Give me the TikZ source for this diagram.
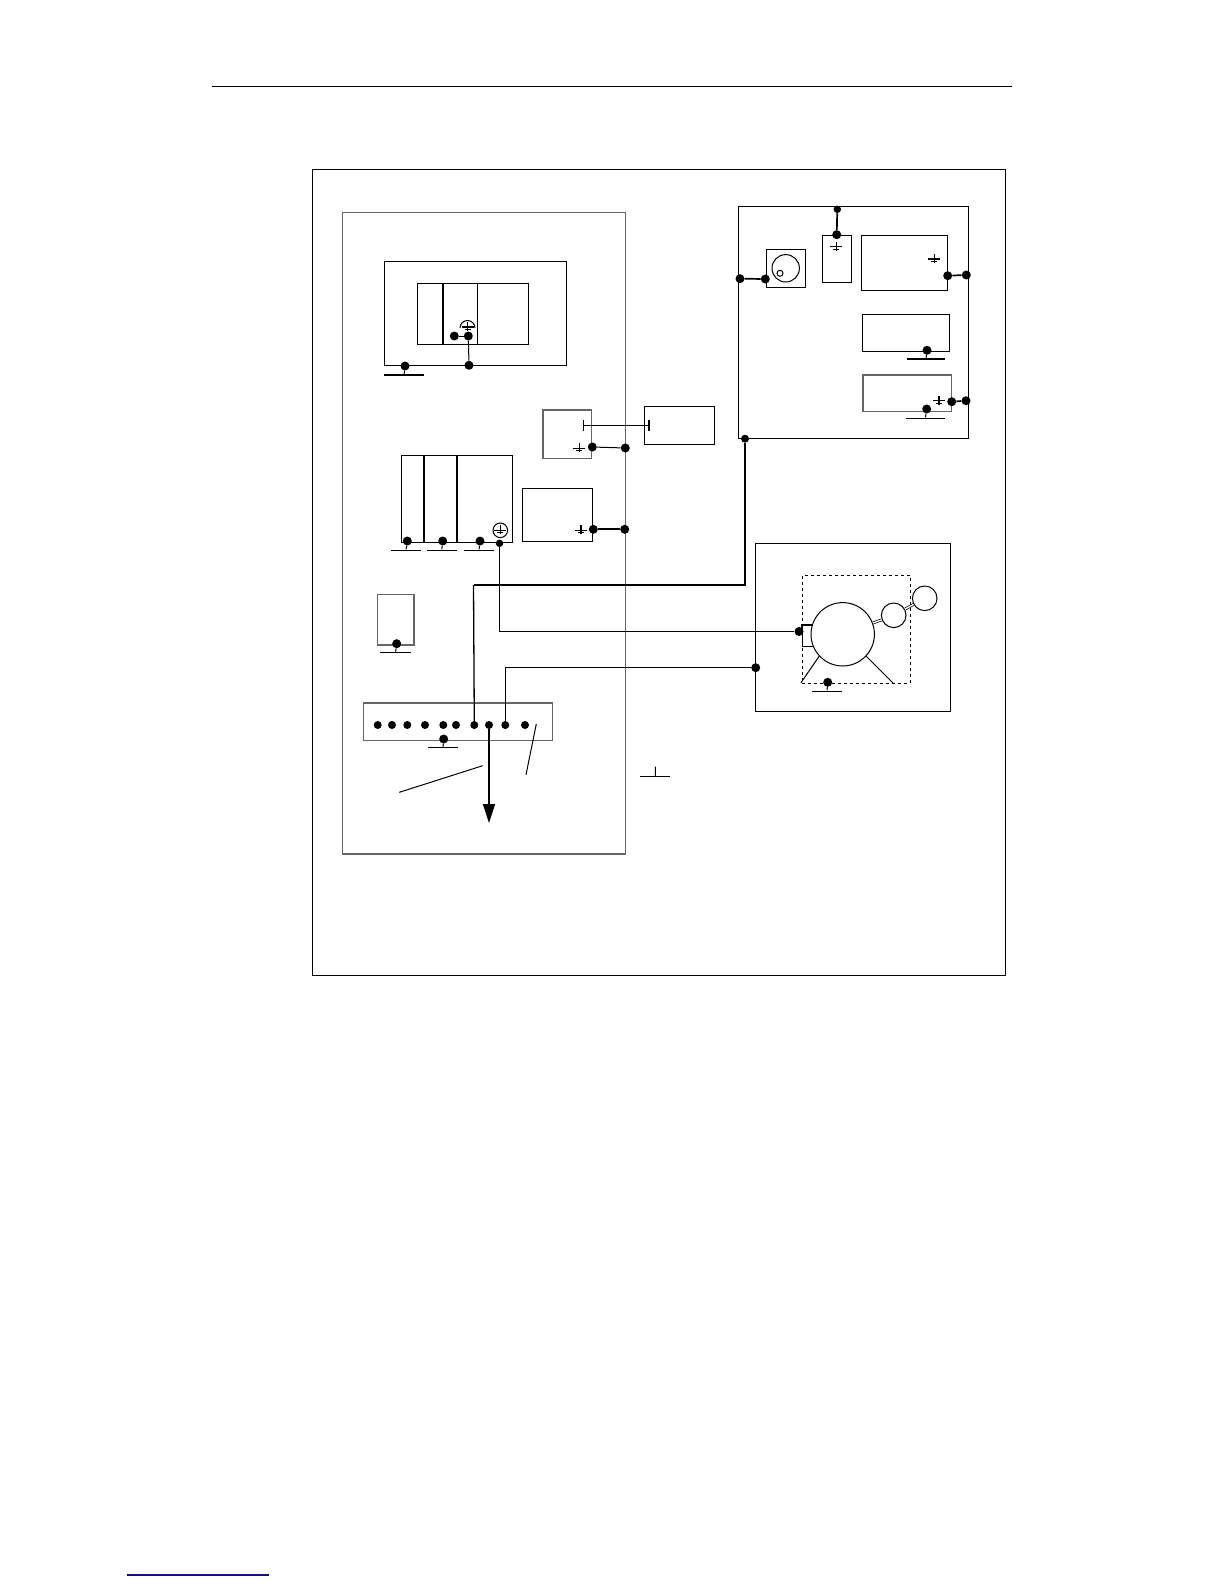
\documentclass[tikz,border=0pt]{standalone}
\usepackage{xcolor}
\usepackage{tikz}
\usetikzlibrary{arrows.meta}
\definecolor{linknavy}{HTML}{10107F}
\newcommand{\earth}[1]{\draw[line width=1.1pt] (#1) ++(0,-5) -- ++(0,9) (#1) ++(-6,0) -- ++(12,0) (#1) ++(-3,2.5) -- ++(6,0);}
\begin{document}
\begin{tikzpicture}[x=1pt, y=-1pt, >=stealth]
        \tikzstyle{box}=[draw, line width=1pt, inner sep=0pt, outer sep=0pt]
        \tikzstyle{pale}=[box, draw=black!60, line width=1.2pt]
        \tikzstyle{dot}=[circle, fill=black, inner sep=0pt, minimum size=9pt]
        \tikzstyle{bar}=[fill=black, inner sep=0pt, minimum height=1.5pt]
        \tikzstyle{tick}=[fill=black, inner sep=0pt, minimum width=1.2pt, minimum height=11pt]
        \tikzstyle{wire}=[line width=1pt]
        \tikzstyle{fat}=[line width=1.7pt]
        \useasboundingbox (0,0) rectangle (1224,1584);
        \fill[white] (0,0) rectangle (1224,1584);
        % page rules
        \coordinate (ruleL) at (212,86);
        \coordinate (ruleR) at (1012,86);
        \draw[line width=.9pt] (ruleL) -- (ruleR);
        \coordinate (linkL) at (127,1575);
        \coordinate (linkR) at (269,1575);
        \draw[linknavy, line width=1.2pt] (linkL) -- (linkR);
        % frames
        \node[box, minimum width=693pt, minimum height=806pt] (frame) at (658.8,572.3) {};
        \node[pale, minimum width=282.6pt, minimum height=641.3pt] (cabinet) at (484,533.3) {};
        % upper unit
        \node[box, minimum width=182.4pt, minimum height=104.4pt] (unit) at (475.5,313.5) {};
        \node[box, minimum width=111.4pt, minimum height=61pt] (rack) at (473,313.8) {};
        \draw[fat] (443,283.3) -- (443,344.3);
        \draw[wire] (477.3,283.3) -- (477.3,344.3);
        \draw[wire] (460,328) arc (180:360:7.5);
        \earth{467.5,327}
        \node[dot] (dRackA) at (454.3,336) {};
        \node[dot] (dRackB) at (468.3,336) {};
        \node[dot] (dUnit) at (469,365.3) {};
        \node[dot] (dUnitG) at (405,366) {};
        \node[bar, minimum width=39.4pt] (bUnit) at (404,375) {};
        \draw[wire] (dRackA) -- (dRackB);
        \draw[wire] (dRackB) -- (dUnit);
        \draw[wire] (dUnitG) -- (bUnit);
        % boxes at the cabinet wall
        \node[pale, minimum width=48.7pt, minimum height=48.3pt] (conv) at (567.3,434.2) {};
        \node[box, minimum width=70pt, minimum height=37.7pt] (ext) at (679.3,425.2) {};
        \node[tick] (tConv) at (583.3,425.3) {};
        \node[tick] (tExt) at (649,425.3) {};
        \draw[wire] (tConv) -- (tExt);
        \earth{579.3,448.3}
        \node[dot] (dConv) at (592.3,447) {};
        \node[dot] (dConvW) at (625.3,448) {};
        \draw[wire] (dConv) -- (dConvW);
        \node[box, minimum width=70.4pt, minimum height=53.4pt] (psu) at (557.5,515) {};
        \earth{581,530.3}
        \node[dot] (dPsu) at (593.3,529.3) {};
        \node[dot] (dPsuW) at (624.7,529.3) {};
        \draw[fat] (dPsu) -- (dPsuW);
        % lower rack
        \node[box, minimum width=111pt, minimum height=87pt] (bank) at (456.8,498.8) {};
        \draw[fat] (424,455.3) -- (424,542.3);
        \draw[fat] (457,455.3) -- (457,542.3);
        \node[draw, circle, line width=1pt, inner sep=0pt, minimum size=14.6pt] (pe) at (500.3,530.3) {};
        \earth{500.3,530.3}
        \foreach \n/\x/\a/\b in {A/407.3/391/421, B/442.7/426.3/457, C/480/463.7/494.3} {
            \node[dot] (dBank\n) at (\x,541) {};
            \node[bar, minimum width=30pt] (bBank\n) at ({(\a+\b)/2},550.3) {};
            \draw[wire] (dBank\n) -- (bBank\n);
        }
        \node[dot, minimum size=7.5pt] (dBankW) at (499.5,543.3) {};
        % small box
        \node[pale, minimum width=36.3pt, minimum height=50.3pt] (relay) at (395.8,619.8) {};
        \node[dot] (dRelay) at (396.7,643.7) {};
        \node[bar, minimum width=30.4pt] (bRelay) at (395.5,652.7) {};
        \draw[wire] (dRelay) -- (bRelay);
        % terminal strip
        \node[pale, minimum width=189.4pt, minimum height=37.3pt] (strip) at (458,721.7) {};
        \foreach \n/\x in {1/377.7, 2/392, 3/407.3, 4/425, 5/443.3, 6/456, 7/474.3, 8/489, 9/505.3, 10/525} {
            \node[dot, minimum size=8pt] (s\n) at (\x,725) {};
        }
        \node[dot] (dStrip) at (443.7,739) {};
        \node[bar, minimum width=30pt] (bStrip) at (443,747.7) {};
        \draw[wire] (dStrip) -- (bStrip);
        \coordinate (out) at (489,823);
        \draw[-{Stealth[length=19pt, width=12pt, inset=0pt]}, line width=1.4pt] (s8) -- (out);
        \coordinate (leadA) at (399.3,792.3);
        \coordinate (leadB) at (482.7,765.7);
        \draw[wire] (leadA) -- (leadB);
        \coordinate (leadC) at (536.3,724);
        \coordinate (leadD) at (526,774.7);
        \draw[wire] (leadC) -- (leadD);
        \node[bar, minimum width=30.3pt] (bFree) at (655.2,776.7) {};
        \coordinate (topFree) at (655.5,766.7);
        \draw[wire] (topFree) -- (bFree);
        % cab box
        \node[box, minimum width=230pt, minimum height=231.3pt] (cab) at (853,322.4) {};
        \node[box, minimum width=39pt, minimum height=38.4pt] (knob) at (785.5,268.5) {};
        \node[draw, circle, line width=1pt, inner sep=0pt, minimum size=27.4pt] (dial) at (785.7,268.3) {};
        \node[draw, circle, line width=1pt, inner sep=0pt, minimum size=6pt] (pin) at (780,273.3) {};
        \node[dot] (dCabL) at (740,278.7) {};
        \node[dot] (dKnob) at (765.3,279) {};
        \draw[fat] (dCabL) -- (dKnob);
        \node[box, minimum width=29pt, minimum height=46.7pt] (fuse) at (836.5,258.7) {};
        \earth{836.3,246.7}
        \node[dot, minimum size=7.5pt] (dCabT) at (837.3,209.3) {};
        \node[dot] (dFuse) at (836.7,234.7) {};
        \draw[fat] (dCabT) -- (dFuse);
        \node[box, minimum width=86pt, minimum height=55pt] (ctrl) at (904.7,262.8) {};
        \earth{934.3,259}
        \node[dot] (dCtrl) at (947.7,275.7) {};
        \node[dot] (dCabR) at (966.3,275) {};
        \draw[fat] (dCtrl) -- (dCabR);
        \node[box, minimum width=87.4pt, minimum height=37pt] (lamp) at (906,332.8) {};
        \node[dot] (dLamp) at (927,350.3) {};
        \node[bar, minimum width=38.6pt] (bLamp) at (926,359) {};
        \draw[wire] (dLamp) -- (bLamp);
        \node[pale, minimum width=88.7pt, minimum height=36.7pt] (disp) at (907.3,393.3) {};
        \earth{939,400.7}
        \node[dot] (dDisp) at (926.7,409) {};
        \node[bar, minimum width=38.7pt] (bDisp) at (925.3,418.3) {};
        \draw[wire] (dDisp) -- (bDisp);
        \node[dot] (dDispR) at (951.7,401.7) {};
        \node[dot] (dCabS) at (966,400.7) {};
        \draw[fat] (dDispR) -- (dCabS);
        \node[dot, minimum size=8pt] (dCabB) at (745,438.7) {};
        % motor box
        \node[box, minimum width=194.6pt, minimum height=168pt] (drive) at (853,627) {};
        \node[box, dashed, minimum width=107.7pt, minimum height=108pt] (guard) at (856.2,629.3) {};
        \node[draw, circle, line width=1pt, inner sep=0pt, minimum size=63.4pt] (motor) at (842.7,634.3) {};
        \node[draw, circle, line width=1pt, inner sep=0pt, minimum size=24.6pt] (fan) at (893.7,615.3) {};
        \node[draw, circle, line width=1pt, inner sep=0pt, minimum size=24.6pt] (enc) at (924.7,598.3) {};
        \draw[double, line width=.7pt, double distance=1.4pt] (motor) -- (fan);
        \draw[double, line width=.7pt, double distance=1.4pt] (fan) -- (enc);
        \node[dot] (dMotor) at (799,631.5) {};
        \node[dot] (dDrive) at (755.7,667.7) {};
        \coordinate (brA) at (811.5,625);
        \coordinate (brB) at (802.3,625);
        \coordinate (brC) at (802.3,646);
        \coordinate (brD) at (812.7,646);
        \draw[fat] (brA) -- (brB) -- (brB |- dMotor);
        \draw[wire] (brB |- dMotor) -- (brC) -- (brD);
        \coordinate (legL) at (801,682.7);
        \coordinate (legR) at (893.3,683.3);
        \draw[wire] (motor.223) -- (legL);
        \draw[wire] (motor.317) -- (legR);
        \node[dot] (dGuard) at (827.7,682.3) {};
        \node[bar, minimum width=30pt] (bGuard) at (827,691.3) {};
        \draw[wire] (dGuard) -- (bGuard);
        % long wires
        \draw[fat] (dCabB) -- (745,585) -- (473.5,585);
        \draw[line width=1.3pt] (473.5,585) -- (s7);
        \draw[fat] (dBankW) -- (499.5,631.5) -- (dMotor);
        \draw[wire] (dDrive) -- (505.3,667.7) -- (s9);
    \end{tikzpicture}
\end{document}
